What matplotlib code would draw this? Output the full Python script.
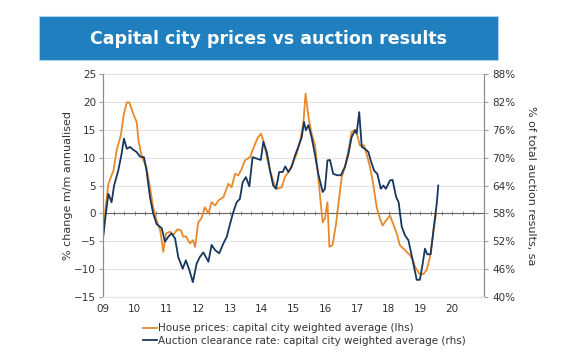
import numpy as np
from matplotlib import pyplot as plt
from matplotlib.patches import Rectangle

# house prices, % change m/m annualised (lhs)
house_t = [2009.00, 2009.08, 2009.17, 2009.33, 2009.43, 2009.56, 2009.66, 2009.75, 2009.83, 2009.95,
           2010.06, 2010.12, 2010.22, 2010.37, 2010.48, 2010.58, 2010.69, 2010.80, 2010.90, 2010.98,
           2011.11, 2011.21, 2011.34, 2011.45, 2011.53, 2011.61, 2011.74, 2011.83, 2011.90, 2012.00,
           2012.10, 2012.21, 2012.32, 2012.42, 2012.53, 2012.63, 2012.79, 2012.95, 2013.05, 2013.16,
           2013.26, 2013.37, 2013.47, 2013.63, 2013.73, 2013.86, 2013.97, 2014.05, 2014.16, 2014.26,
           2014.39, 2014.49, 2014.63, 2014.73, 2014.84, 2014.97, 2015.10, 2015.20, 2015.31, 2015.38,
           2015.47, 2015.57, 2015.68, 2015.78, 2015.86, 2015.92, 2015.99, 2016.07, 2016.13, 2016.23,
           2016.34, 2016.44, 2016.52, 2016.62, 2016.73, 2016.83, 2016.94, 2017.01, 2017.09, 2017.22,
           2017.30, 2017.41, 2017.51, 2017.62, 2017.72, 2017.81, 2017.91, 2018.04, 2018.14, 2018.25,
           2018.35, 2018.51, 2018.65, 2018.75, 2018.83, 2018.96, 2019.09, 2019.19, 2019.30, 2019.40,
           2019.49]
house = [-4.0, 1.0, 5.3, 7.7, 11.3, 14.0, 17.9, 19.9, 19.9, 17.9,
         16.4, 13.0, 10.2, 8.3, 4.7, 1.1, -1.3, -3.0, -6.9, -3.6,
         -3.3, -3.9, -2.9, -3.0, -4.2, -4.1, -5.4, -4.8, -6.0, -1.6,
         -0.9, 1.1, 0.0, 2.0, 1.4, 2.3, 2.9, 5.3, 4.7, 7.1,
         6.8, 8.0, 9.5, 10.1, 11.6, 13.4, 14.3, 13.1, 10.1, 7.7,
         5.3, 4.4, 4.7, 6.5, 7.4, 8.9, 10.7, 12.8, 16.1, 21.5,
         17.3, 14.3, 12.2, 6.5, 1.7, -1.6, -0.9, 2.0, -6.0, -5.7,
         -1.9, 2.9, 6.5, 8.3, 11.3, 14.6, 15.0, 14.0, 12.2, 12.2,
         10.7, 8.3, 5.3, 1.1, -0.9, -2.2, -1.3, -0.4, -1.9, -3.6,
         -5.7, -6.6, -7.4, -8.2, -9.6, -10.8, -10.9, -10.2, -7.8, -3.6,
         0.0]

# auction clearance rate, % of total auction results (rhs)
auction_t = [2009.00, 2009.08, 2009.17, 2009.27, 2009.35, 2009.48, 2009.58, 2009.66, 2009.75, 2009.85,
             2009.95, 2010.06, 2010.17, 2010.29, 2010.37, 2010.48, 2010.58, 2010.69, 2010.85, 2010.95,
             2011.06, 2011.16, 2011.27, 2011.37, 2011.51, 2011.61, 2011.72, 2011.83, 2011.95, 2012.05,
             2012.16, 2012.32, 2012.42, 2012.53, 2012.66, 2012.79, 2012.90, 2013.00, 2013.10, 2013.21,
             2013.31, 2013.40, 2013.50, 2013.61, 2013.71, 2013.84, 2013.97, 2014.05, 2014.16, 2014.26,
             2014.36, 2014.45, 2014.55, 2014.66, 2014.74, 2014.84, 2014.94, 2015.05, 2015.15, 2015.26,
             2015.33, 2015.39, 2015.47, 2015.57, 2015.68, 2015.78, 2015.92, 2015.99, 2016.07, 2016.15,
             2016.25, 2016.38, 2016.49, 2016.62, 2016.73, 2016.83, 2016.94, 2016.99, 2017.07, 2017.15,
             2017.25, 2017.36, 2017.43, 2017.54, 2017.64, 2017.75, 2017.83, 2017.91, 2018.04, 2018.12,
             2018.23, 2018.31, 2018.41, 2018.51, 2018.62, 2018.72, 2018.88, 2018.98, 2019.07, 2019.14,
             2019.21, 2019.32, 2019.42, 2019.51, 2019.56]
auction = [52.6, 57.4, 62.2, 60.4, 64.0, 67.2, 70.6, 74.1, 71.9, 72.3,
           71.7, 71.2, 70.2, 70.1, 67.2, 61.5, 58.0, 55.7, 54.8, 51.9,
           53.0, 53.7, 52.6, 48.6, 46.1, 47.9, 45.8, 43.2, 47.2, 48.6,
           49.6, 47.6, 51.2, 50.1, 49.4, 51.5, 53.0, 55.7, 58.2, 60.4,
           61.1, 64.7, 65.8, 63.8, 70.1, 69.8, 69.5, 73.4, 71.2, 67.2,
           64.0, 63.3, 66.9, 66.9, 68.1, 66.9, 68.0, 70.5, 72.3, 74.4,
           77.7, 75.9, 77.0, 74.4, 70.5, 66.5, 62.6, 63.3, 69.4, 69.5,
           66.5, 66.2, 66.2, 68.0, 70.8, 74.4, 75.9, 75.2, 79.8, 72.3,
           71.9, 71.2, 69.4, 67.2, 66.5, 63.3, 64.0, 63.3, 65.1, 65.2,
           61.6, 60.4, 55.1, 53.3, 52.2, 49.0, 43.7, 43.7, 47.2, 50.4,
           49.2, 49.2, 55.1, 60.0, 64.0]

years = list(range(2009, 2021))
year_labels = ['09', '10', '11', '12', '13', '14', '15', '16', '17', '18', '19', '20']

orange = '#E8892B'
navy = '#17375E'
grey = '#8C8C8C'

plt.rcParams['font.family'] = 'DejaVu Sans'
fig = plt.figure(figsize=(5.8, 3.52), dpi=100)

# title banner
fig.patches.append(Rectangle((39 / 580, 1 - 60 / 352), 459 / 580, 44 / 352, transform=fig.transFigure,
                             facecolor='#1F7FBF', edgecolor='#A9D3EE', lw=0.8))
fig.text(268 / 580, 1 - 39 / 352, 'Capital city prices vs auction results', color='white',
         fontsize=12.5, fontweight='bold', ha='center', va='center')

ax = fig.add_axes([103 / 580, 55 / 352, 381 / 580, 223 / 352])
ax2 = ax.twinx()

ax.set_xlim(2009, 2021)
ax.set_ylim(-15, 25)
ax.set_yticks(np.arange(-15, 26, 5))
ax2.set_ylim(40, 88)
ax2.set_yticks(np.arange(40, 89, 6))
ax2.set_yticklabels([f'{v}%' for v in range(40, 89, 6)])

ax.set_xticks(years)
ax.set_xticklabels(year_labels)
ax.tick_params(axis='x', length=0, pad=5, labelsize=7.5, colors='#333333')
ax.tick_params(axis='y', length=3, width=0.6, color=grey, labelsize=7.5, labelcolor='#333333', pad=2)
ax2.tick_params(axis='y', length=3, width=0.6, color=grey, labelsize=7.5, labelcolor='#333333', pad=3)

ax.grid(axis='y', color='#E3E3E3', lw=0.8)
ax.set_axisbelow(True)
for a in (ax, ax2):
    a.spines['top'].set_visible(False)
    a.spines['bottom'].set_color('#E3E3E3')
    a.spines['left'].set_color(grey)
    a.spines['right'].set_color(grey)
    a.spines['left'].set_linewidth(0.8)
    a.spines['right'].set_linewidth(0.8)

# zero line with small ticks every 4 months
ax.axhline(0, color='#666666', lw=0.8, zorder=1.5)
zero = ax.secondary_xaxis(15 / 40)
zero.set_xticks(np.arange(2009, 2021.01, 1 / 3))
zero.tick_params(axis='x', direction='inout', length=3.5, width=0.6, color='#777777', labelbottom=False)
zero.spines['bottom'].set_visible(False)

l1, = ax.plot(house_t, house, color=orange, lw=1.3)
l2, = ax2.plot(auction_t, auction, color=navy, lw=1.3)
ax.set_xlim(2009, 2021)

ax.set_ylabel('% change m/m annualised', fontsize=8, color='#333333', labelpad=1)
ax2.set_ylabel('% of total auction results, sa', fontsize=8, color='#333333', rotation=270, labelpad=15)

fig.legend([l1, l2], ['House prices: capital city weighted average (lhs)',
                      'Auction clearance rate: capital city weighted average (rhs)'],
           loc='upper left', bbox_to_anchor=(138 / 580, 1 - 318 / 352), frameon=False,
           fontsize=7.5, handlelength=1.3, handletextpad=0.1, labelspacing=0.25, borderpad=0,
           labelcolor='#333333')

fig.savefig('out.png', dpi=100)
